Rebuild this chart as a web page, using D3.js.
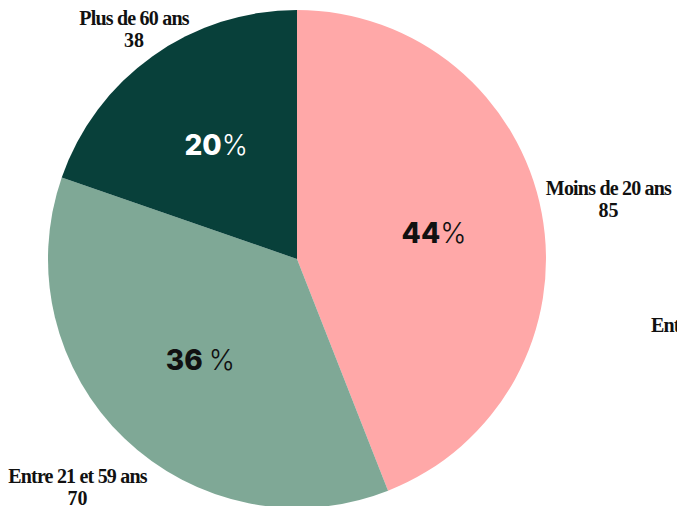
<!DOCTYPE html>
<html>
<head>
<meta charset="utf-8">
<script src="https://cdn.jsdelivr.net/npm/d3@7"></script>
<style>
  html, body { margin: 0; padding: 0; background: #fff; }
  svg { display: block; }
</style>
</head>
<body>
<svg id="viz"></svg>
<script>
const width = 677;
const height = 506;

// data
const categories = ["Moins de 20 ans", "Entre 21 et 59 ans", "Plus de 60 ans"];
const counts = [85, 70, 38];
const percentLabels = ["44%", "36 %", "20%"];
const colors = ["#ffa8a8", "#7fa896", "#08403a"];
const percentColors = ["#111", "#111", "#fff"];

const svg = d3.select("#viz")
  .attr("width", width)
  .attr("height", height)
  .attr("viewBox", `0 0 ${width} ${height}`);

const cx = 297, cy = 259, radius = 249;
const g = svg.append("g").attr("transform", `translate(${cx},${cy})`);

const data = categories.map((c, i) => ({ name: c, value: counts[i], pct: percentLabels[i], color: colors[i], tc: percentColors[i] }));

const pie = d3.pie().sort(null).value(d => d.value);
const arcs = pie(data);

const arc = d3.arc().innerRadius(0).outerRadius(radius);
const inner = d3.arc().innerRadius(radius * 0.56).outerRadius(radius * 0.56);

g.selectAll("path.slice")
  .data(arcs)
  .enter()
  .append("path")
  .attr("class", "slice")
  .attr("d", arc)
  .attr("fill", d => d.data.color);

// percentages inside slices
const pctText = g.selectAll("text.pct")
  .data(arcs)
  .enter()
  .append("text")
  .attr("class", "pct")
  .attr("transform", d => `translate(${inner.centroid(d)})`)
  .attr("text-anchor", "middle")
  .attr("dy", "0.36em")
  .attr("font-family", "Inter, Roboto, sans-serif")
  .attr("font-size", "28px")
  .attr("fill", d => d.data.tc);

pctText.append("tspan")
  .attr("font-weight", 800)
  .text(d => d.data.pct.replace("%", ""));
pctText.append("tspan")
  .attr("font-weight", 300)
  .text("%");

// outer labels
const labelR = 317;
const minY = -229;
function labelPos(d) {
  const a = (d.startAngle + d.endAngle) / 2;
  let x = Math.sin(a) * labelR, y = -Math.cos(a) * labelR;
  if (y < minY) { const k = minY / y; x *= k; y *= k; }
  return [x, y];
}

const labelFont = "'Liberation Serif', serif";

const lab = g.selectAll("g.lab")
  .data(arcs)
  .enter()
  .append("g")
  .attr("class", "lab")
  .attr("transform", d => `translate(${labelPos(d)})`);

lab.append("text")
  .attr("text-anchor", "middle")
  .attr("y", -5)
  .attr("font-family", labelFont)
  .attr("font-weight", "bold")
  .attr("font-size", "20px")
  .attr("letter-spacing", "-0.8px")
  .attr("fill", "#111")
  .text(d => d.data.name);

lab.append("text")
  .attr("text-anchor", "middle")
  .attr("y", 17)
  .attr("font-family", labelFont)
  .attr("font-weight", "bold")
  .attr("font-size", "20px")
  .attr("fill", "#111")
  .text(d => d.data.value);

// stray label cut off at the right edge
svg.append("text")
  .attr("x", 651)
  .attr("y", 332)
  .attr("font-family", labelFont)
  .attr("font-weight", "bold")
  .attr("font-size", "20px")
  .attr("letter-spacing", "-0.8px")
  .attr("fill", "#111")
  .text(categories[1]);
</script>
</body>
</html>
